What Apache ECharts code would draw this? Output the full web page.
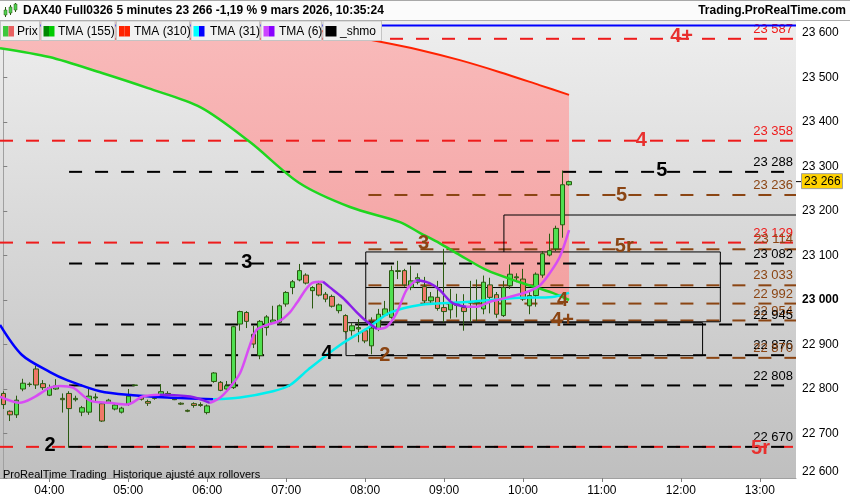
<!DOCTYPE html>
<html><head><meta charset="utf-8">
<script src="https://cdn.jsdelivr.net/npm/echarts@6/dist/echarts.min.js"></script>
<style>html,body{margin:0;padding:0;background:#fff}#c{width:850px;height:500px}</style>
</head><body><div id="c"></div>
<script>
// ---------- DATA ----------
const slotStartMinutes = 3 * 60 + 25;   // first 5-minute slot: 03:25
const slotCount = 121;                  // 03:25 .. 13:25
const hourLabels = ['04:00','05:00','06:00','07:00','08:00','09:00','10:00','11:00','12:00','13:00'];

const opens = [22790,22750,22742,22800,22810,22845,22812,22786,22800,22779,
22790,22776,22748,22748,22780,22767,22770,22755,22748,22766,
22808,22782,22772,22779,22784,22790,22778,22768,22752,22767,
22765,22747,22817,22815,22800,22803,22946,22972,22923,22875,
22938,22950,22950,22991,23028,23045,23056,23021,23036,23013,
23008,22976,22965,22931,22935,22931,22897,22936,22966,22961,
23064,23066,23028,23040,23030,22998,23006,22983,22978,22990,
22983,22993,22994,22980,23034,23012,22965,23032,23050,23047,
22987,23010,23056,23101,23115,23169,23259];
const closes = [22765,22742,22775,22813,22811,22809,22803,22803,22807,22776,
22756,22779,22758,22784,22782,22728,22775,22764,22757,22784,
22809,22777,22768,22780,22794,22788,22776,22766,22750,22763,
22763,22762,22836,22797,22807,22940,22974,22952,22901,22952,
22962,22955,22987,23017,23041,23066,23038,23028,23011,23002,
22986,22989,22929,22942,22938,22908,22937,22968,22980,23066,
23066,23034,23043,23050,22998,23007,22981,22974,22995,22988,
22974,22996,22996,23040,23006,22968,23028,23058,23052,23002,
23010,23058,23104,23111,23161,23259,23266];
const lows = [22755,22728,22735,22795,22805,22800,22798,22784,22798,22747,
22668,22772,22739,22742,22772,22726,22768,22752,22745,22762,
22806,22774,22762,22776,22780,22785,22775,22764,22748,22758,
22760,22743,22814,22795,22797,22800,22931,22937,22892,22867,
22920,22948,22945,22985,23013,23042,23035,22981,23008,22995,
22983,22970,22925,22920,22905,22903,22878,22930,22962,22958,
23047,23030,23022,23035,22990,22990,22976,22950,22958,22961,
22931,22950,22953,22968,22970,22960,22962,23025,23040,22998,
22968,22985,23050,23098,23110,23140,23257];
const highs = [22795,22752,22785,22823,22815,22852,22820,22810,22822,22790,
22795,22785,22762,22803,22790,22770,22778,22768,22760,22800,
22810,22786,22776,22782,22811,22795,22780,22770,22754,22770,
22770,22765,22838,22818,22818,22942,22976,22975,22942,22955,
22966,22987,22990,23020,23045,23081,23060,23031,23043,23018,
23012,22992,22968,22948,22957,22935,22961,22980,22998,23077,
23088,23070,23077,23060,23052,23018,23043,23115,23025,23014,
23013,23043,23046,23055,23050,23018,23043,23080,23060,23070,
23020,23062,23110,23149,23167,23291,23268];
const lastPrice = 23266;

// moving averages, [bar index, price]
const tma155 = [[-0.5,23566],[7,23546],[15,23510],[22,23476],[30,23433],[37.5,23355],[45,23263],[52.7,23209],[60.3,23175],[63.3,23151],[66.3,23128],[69.4,23101],[73.5,23067],[78.5,23040],[83.5,23016],[86,23000]];
const tma310 = [[-0.5,23700],[20,23672],[40,23628],[50,23600],[57.5,23580],[63.3,23562],[69.4,23539],[75.5,23512],[81.5,23483],[86,23461]];
const tma31 = [[-0.5,22944],[2.8,22877],[7.1,22838],[9.7,22820],[14.7,22795],[19.7,22786],[24.9,22781],[31.9,22777],[36,22781],[41,22795],[43.6,22809],[46.3,22843],[51.2,22899],[55.7,22940],[58.7,22971],[63.3,22989],[70.9,22996],[78.5,23005],[83.5,23007],[86,23016]];
const tma6 = [[-0.5,22783],[2.5,22769],[4.5,22780],[7.1,22803],[8.6,22807],[10.6,22803],[13.2,22774],[16.2,22769],[18.8,22765],[21.2,22783],[23.8,22787],[28.4,22783],[31.4,22769],[32.9,22780],[34.4,22803],[36,22836],[37.5,22899],[38.5,22933],[40.1,22944],[42,22953],[43.6,22973],[44.6,22993],[46.9,23038],[48.6,23041],[49.6,23029],[51.6,23005],[53.7,22973],[55.3,22951],[56.8,22935],[58.3,22940],[59.8,22971],[61.3,23023],[62.8,23045],[64.8,23038],[66.3,23023],[68.3,22993],[70.4,22985],[72,22985],[74,22996],[77,23007],[79.6,23018],[81.5,23032],[83.1,23061],[84.6,23097],[86,23157]];
const topLinePrice = 23617;
// colour changes (bar index where the average turns)
const tma31Turns = [31.9];
const tma6Turns = [23.8, 31.4, 48.6, 56.8, 62.8, 70.4];

// _shmo levels
const levelPrices = [23587,23358,23288,23236,23129,23114,23082,23033,22992,22954,22945,22876,22870,22808,22670,22670];
const levelStart  = [-0.5,-0.5,10,55.5,-0.5,55.5,10,55.5,55.5,55.5,10,10,55.5,10,-0.5,10];
const levelKind   = ['r','r','k','b','r','b','k','b','b','b','k','k','b','k','r','k'];
const levelText   = ['23 587','23 358','23 288','23 236','23 129','23 114','23 082','23 033','22 992','22 954','22 945','22 876','22 870','22 808','','22 670'];

// big marks
const markX    = [103.1,97,100.1,94,94.4,63.9,37,85,85,49.2,58,7.1,115.1];
const markY    = [23593,23358,23292,23236,23121,23127,23085,23000,22955,22879,22876,22674,22667];
const markText = ['4+','4','5','5','5r','3','3','4','4+','4','2','2','5r'];
const markKind = ['r','r','k','b','b','b','k','b','b','k','b','k','r'];

// boxes drawn by _shmo, [bar index, price] polylines
const boxes = [
  [[55.1,23108],[109,23108],[109,22951],[55.1,22951],[55.1,23108]],
  [[55.1,23028],[109,23028]],
  [[52.1,22949],[106.3,22949],[106.3,22875],[52.1,22875],[52.1,22949]],
  [[76.1,23108],[76.1,23191],[120.5,23191]]
];

// ---------- CHART ----------
const slots = [];
for (let i = 0; i < slotCount; i++) {
  const m = slotStartMinutes + 5 * i;
  slots.push(String(Math.floor(m / 60)).padStart(2, '0') + ':' + String(m % 60).padStart(2, '0'));
}
const isHour = (i, v) => hourLabels.indexOf(v) >= 0;
const FONT = "'Liberation Sans', Arial, sans-serif";
const kindColor = {r: '#ee1c1c', k: '#000000', b: '#8b4513'};
const markColor = {r: '#e8302e', k: '#000000', b: '#8b4513'};
const fmt = v => String(v).replace(/\B(?=(\d{3})+(?!\d))/g, ' ');
const YMAX = 23627, YMIN = 22600;

// split an average into coloured pieces at its turning points
function pieces(points, turns) {
  const out = [];
  let cur = [];
  let t = 0;
  points.forEach(p => {
    cur.push(p);
    if (t < turns.length && Math.abs(p[0] - turns[t]) < 1e-6) {
      out.push(cur);
      cur = [p];
      t++;
    }
  });
  if (cur.length > 1) out.push(cur);
  return out;
}
function lineSeries(data, color, width, z) {
  return {type: 'line', xAxisIndex: 1, yAxisIndex: 0, z: z, data: data, smooth: 0.3, showSymbol: false, silent: true,
    lineStyle: {color: color, width: width}};
}

const chart = echarts.init(document.getElementById('c'), null, {renderer: 'canvas'});

const legendItems = [
  {x0: 0, x1: 40, sw: ['#3cc83c', '#e86060'], t: 'Prix', tx: 17},
  {x0: 40.5, x1: 115.5, sw: ['#008800', '#00cc00'], t: 'TMA (155)', tx: 58},
  {x0: 116, x1: 190, sw: ['#ff2200', '#ff2200'], t: 'TMA (310)', tx: 134},
  {x0: 190.5, x1: 260, sw: ['#00ffff', '#0000ff'], t: 'TMA (31)', tx: 210},
  {x0: 260.5, x1: 322, sw: ['#cc44ff', '#8800ff'], t: 'TMA (6)', tx: 279},
  {x0: 322.5, x1: 382, sw: ['#000000', '#000000'], t: '_shmo', tx: 340}
];
const graphics = [
  {type: 'rect', shape: {x: 0, y: 0, width: 850, height: 20.5}, style: {fill: '#fbfbfb'}, z: 100},
  {type: 'line', shape: {x1: 0, y1: 0.5, x2: 850, y2: 0.5}, style: {stroke: '#a8a8a8', lineWidth: 1}, z: 101},
  {type: 'line', shape: {x1: 0, y1: 20.5, x2: 850, y2: 20.5}, style: {stroke: '#b0b0b0', lineWidth: 1}, z: 101},
  {type: 'text', style: {text: 'DAX40 Full0326 5 minutes 23 266 -1,19 % 9 mars 2026, 10:35:24', x: 23, y: 11, verticalAlign: 'middle', font: 'bold 12px ' + FONT, fill: '#000'}, z: 101},
  {type: 'text', style: {text: 'Trading.ProRealTime.com', x: 846, y: 11, align: 'right', verticalAlign: 'middle', font: 'bold 12px ' + FONT, fill: '#000'}, z: 101},
  {type: 'line', shape: {x1: 5.5, y1: 7, x2: 5.5, y2: 17}, style: {stroke: '#2a5a10'}, z: 101},
  {type: 'rect', shape: {x: 4, y: 10, width: 3, height: 5}, style: {fill: '#4fd04f', stroke: '#2a5a10', lineWidth: 0.5}, z: 102},
  {type: 'line', shape: {x1: 10.5, y1: 5, x2: 10.5, y2: 15}, style: {stroke: '#2a5a10'}, z: 101},
  {type: 'rect', shape: {x: 9, y: 7, width: 3, height: 6}, style: {fill: '#4fd04f', stroke: '#2a5a10', lineWidth: 0.5}, z: 102},
  {type: 'line', shape: {x1: 15.5, y1: 3, x2: 15.5, y2: 12}, style: {stroke: '#2a5a10'}, z: 101},
  {type: 'rect', shape: {x: 14, y: 4, width: 3, height: 6}, style: {fill: '#4fd04f', stroke: '#2a5a10', lineWidth: 0.5}, z: 102},
  {type: 'text', style: {text: 'ProRealTime Trading  Historique ajusté aux rollovers', x: 3, y: 475, verticalAlign: 'middle', font: '11px ' + FONT, fill: '#000'}, z: 101}
];
legendItems.forEach(it => {
  graphics.push({type: 'rect', shape: {x: it.x0 + 0.5, y: 21, width: it.x1 - it.x0 - 1, height: 19.5}, style: {fill: '#f1f1f1', stroke: '#c4c4c4', lineWidth: 1}, z: 100});
  graphics.push({type: 'rect', shape: {x: it.x0 + 3, y: 26, width: 5.5, height: 10.5}, style: {fill: it.sw[0]}, z: 101});
  graphics.push({type: 'rect', shape: {x: it.x0 + 8.5, y: 26, width: 5.5, height: 10.5}, style: {fill: it.sw[1]}, z: 101});
  graphics.push({type: 'text', style: {text: it.t, x: it.tx, y: 31.5, verticalAlign: 'middle', font: '12px ' + FONT, fill: '#000'}, z: 101});
});

const series = [
  { // band between TMA155 and TMA310
    type: 'custom', xAxisIndex: 1, yAxisIndex: 0, data: [[0, 23000]], silent: true, z: 1,
    renderItem: function (params, api) {
      const pts = [];
      tma310.forEach(p => pts.push(api.coord([p[0], Math.min(p[1], YMAX)])));
      for (let i = tma155.length - 1; i >= 0; i--) pts.push(api.coord(tma155[i]));
      return {type: 'polygon', shape: {points: pts}, style: {fill: {type: 'linear', x: 0, y: 0, x2: 0, y2: 1, colorStops: [{offset: 0, color: '#f9bbbb'}, {offset: 1, color: '#f3a1a1'}]}}};
    }
  },
  { // levels
    type: 'custom', xAxisIndex: 1, yAxisIndex: 0, silent: true, z: 2,
    data: levelPrices.map((p, i) => [levelStart[i], p]),
    renderItem: function (params, api) {
      const i = params.dataIndex;
      const a = api.coord([levelStart[i], levelPrices[i]]);
      const b = api.coord([slotCount - 0.5, levelPrices[i]]);
      const col = kindColor[levelKind[i]];
      const ch = [{type: 'line', shape: {x1: a[0], y1: a[1], x2: b[0], y2: b[1]}, style: {stroke: col, lineWidth: 2, lineDash: [13, 13]}}];
      if (levelText[i]) ch.push({type: 'text', z2: 10, style: {text: levelText[i], x: b[0] - 3, y: b[1] - 3, align: 'right', verticalAlign: 'bottom', font: '13px ' + FONT, fill: col}});
      return {type: 'group', children: ch};
    }
  },
  { // boxes
    type: 'custom', xAxisIndex: 1, yAxisIndex: 0, silent: true, z: 2,
    data: boxes.map(b => [b[0][0], b[0][1]]),
    renderItem: function (params, api) {
      return {type: 'polyline', shape: {points: boxes[params.dataIndex].map(p => api.coord(p))},
        style: {stroke: '#000', lineWidth: 1, fill: null}};
    }
  },
  { // candles
    type: 'candlestick', xAxisIndex: 0, yAxisIndex: 0, z: 3, barWidth: 5,
    data: opens.map((o, i) => [o, closes[i], lows[i], highs[i]]),
    itemStyle: {color: '#50e050', color0: '#ef7868', borderColor: '#2a5a10', borderColor0: '#2a5a10', borderWidth: 1}
  },
  lineSeries(tma155, '#1fd61f', 2.5, 4),
  lineSeries(tma310, '#ff2200', 2, 4),
  lineSeries([[-0.5, topLinePrice], [slotCount - 0.5, topLinePrice]], '#0000ff', 2, 4)
];
pieces(tma31, tma31Turns).forEach((seg, i) => series.push(lineSeries(seg, i % 2 === 0 ? '#0000ff' : '#00eeee', 2.5, 4)));
pieces(tma6, tma6Turns).forEach((seg, i) => series.push(lineSeries(seg, i % 2 === 0 ? '#d84cf4' : '#8a1ee8', 2.5, 4)));
series.push({ // big marks
  type: 'custom', xAxisIndex: 1, yAxisIndex: 0, silent: true, z: 5,
  data: markX.map((x, i) => [x, markY[i]]),
  renderItem: function (params, api) {
    const i = params.dataIndex;
    const p = api.coord([markX[i], markY[i]]);
    return {type: 'text', style: {text: markText[i], x: p[0], y: p[1], align: 'center', verticalAlign: 'middle', font: 'bold 20px ' + FONT, fill: markColor[markKind[i]]}};
  }
});
series.push({ // last price tag
  type: 'custom', xAxisIndex: 1, yAxisIndex: 0, silent: true, z: 6,
  data: [[slotCount - 0.5, lastPrice]],
  renderItem: function (params, api) {
    const p = api.coord([slotCount - 0.5, lastPrice]);
    return {type: 'group', children: [
      {type: 'line', shape: {x1: p[0], y1: p[1], x2: p[0] + 6, y2: p[1]}, style: {stroke: '#000', lineWidth: 1}},
      {type: 'rect', shape: {x: p[0] + 5.5, y: p[1] - 8, width: 41, height: 15}, style: {fill: '#ffd200', stroke: '#a0a0a0', lineWidth: 1}},
      {type: 'text', style: {text: fmt(lastPrice), x: p[0] + 8, y: p[1], verticalAlign: 'middle', font: '12px ' + FONT, fill: '#000'}}
    ]};
  }
});

const option = {
  animation: false,
  backgroundColor: '#ffffff',
  grid: {
    left: 0, right: 54, top: 21, bottom: 22, show: true, borderWidth: 0,
    backgroundColor: {type: 'linear', x: 0, y: 0, x2: 0, y2: 1, colorStops: [{offset: 0, color: '#eeeeee'}, {offset: 1, color: '#bfbfbf'}]}
  },
  xAxis: [
    {
      type: 'category', data: slots, boundaryGap: true,
      axisLine: {show: true, lineStyle: {color: '#a0a0a0'}},
      axisTick: {show: true, interval: isHour, alignWithLabel: true, length: 4, lineStyle: {color: '#808080'}},
      axisLabel: {interval: isHour, color: '#000', fontSize: 12, fontFamily: FONT, margin: 7},
      splitLine: {show: false}
    },
    {type: 'value', min: -0.5, max: slotCount - 0.5, show: false}
  ],
  yAxis: {
    type: 'value', position: 'right', min: YMIN, max: YMAX, interval: 100,
    axisLine: {show: true, lineStyle: {color: '#a0a0a0'}},
    axisTick: {show: true, length: 4, lineStyle: {color: '#808080'}},
    splitLine: {show: false},
    axisLabel: {
      color: '#000', fontSize: 12, fontFamily: FONT, margin: 6, showMaxLabel: false,
      verticalAlignMinLabel: 'bottom',
      formatter: v => (v % 100 !== 0) ? '' : (v === 23000 ? '{b|' + fmt(v) + '}' : fmt(v)),
      rich: {b: {fontWeight: 'bold', fontSize: 12, fontFamily: FONT, color: '#000'}}
    }
  },
  series: series,
  graphic: graphics
};
chart.setOption(option);
</script></body></html>
